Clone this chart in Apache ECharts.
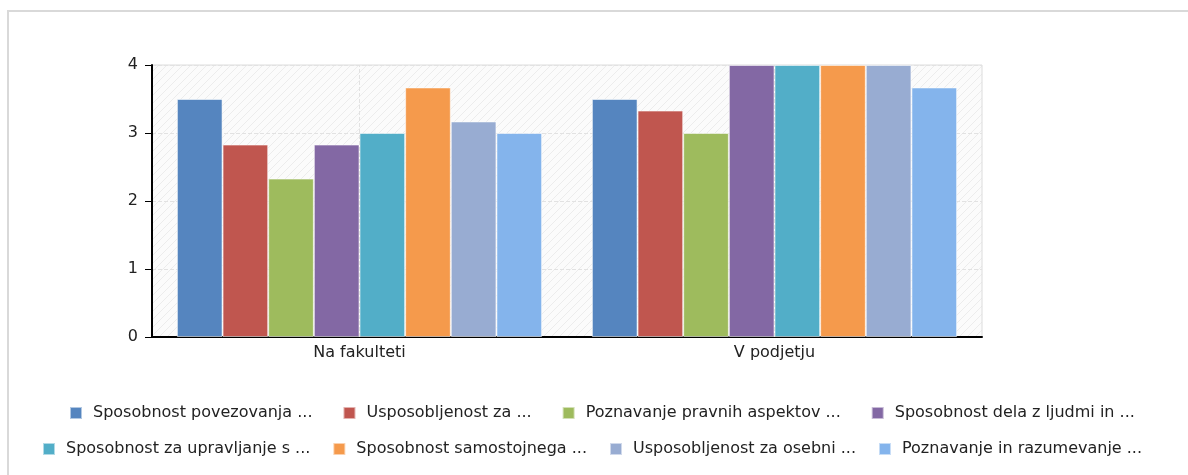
<!DOCTYPE html>
<html>
<head>
<meta charset="utf-8">
<script src="https://cdn.jsdelivr.net/npm/echarts@6/dist/echarts.min.js"></script>
<style>
html,body{margin:0;padding:0;background:#fff;overflow:hidden;}
#frame{position:absolute;left:7px;top:10px;width:1300px;height:600px;border-top:2px solid #d9d9d9;border-left:2px solid #d9d9d9;}
#chart{position:absolute;left:0;top:0;width:1188px;height:475px;}
</style>
</head>
<body>
<div id="frame"></div>
<div id="chart"></div>
<script>
var categories = ['Na fakulteti', 'V podjetju'];
var seriesNames = [
  'Sposobnost povezovanja ...',
  'Usposobljenost za ...',
  'Poznavanje pravnih aspektov ...',
  'Sposobnost dela z ljudmi in ...',
  'Sposobnost za upravljanje s ...',
  'Sposobnost samostojnega ...',
  'Usposobljenost za osebni ...',
  'Poznavanje in razumevanje ...'
];
var s1 = [3.5, 3.5];
var s2 = [2.83, 3.33];
var s3 = [2.33, 3];
var s4 = [2.83, 4];
var s5 = [3, 4];
var s6 = [3.67, 4];
var s7 = [3.17, 4];
var s8 = [3, 3.67];
var yTicks = [0, 1, 2, 3, 4];

var colors = ['#5585BF', '#C0564F', '#9EBB5D', '#8368A4', '#52AEC8', '#F59A4C', '#98ACD2', '#84B4EC'];
var values = [s1, s2, s3, s4, s5, s6, s7, s8];

// hatched background pattern
var pc = document.createElement('canvas');
pc.width = 8; pc.height = 8;
var ctx = pc.getContext('2d');
ctx.fillStyle = '#fbfbfb';
ctx.fillRect(0, 0, 8, 8);
ctx.strokeStyle = '#ececec';
ctx.lineWidth = 1;
ctx.beginPath();
ctx.moveTo(0, 8); ctx.lineTo(8, 0);
ctx.moveTo(-4, 4); ctx.lineTo(4, -4);
ctx.moveTo(4, 12); ctx.lineTo(12, 4);
ctx.stroke();

var font = "'DejaVu Sans', sans-serif";
var series = values.map(function (v, i) {
  return {
    name: seriesNames[i],
    type: 'bar',
    data: v,
    barGap: '0%',
    barCategoryGap: '12%',
    itemStyle: { color: colors[i], borderColor: 'rgba(255,255,255,0.55)', borderWidth: 1 },
    z: 2
  };
});
series.push({
  type: 'line',
  data: [],
  z: 1,
  silent: true,
  markLine: {
    silent: true,
    symbol: ['none', 'none'],
    label: { show: false },
    lineStyle: { color: '#e2e2e2', type: 'dashed', width: 1 },
    data: categories.map(function (c) { return { xAxis: c }; })
  }
});

var legendText = { color: '#222', fontSize: 16, fontFamily: font, padding: [0, 0, 0, 6] };

var chart = echarts.init(document.getElementById('chart'), null, { renderer: 'canvas' });
chart.setOption({
  animation: false,
  color: colors,
  textStyle: { fontFamily: font },
  grid: {
    left: 152, right: 206, top: 65, bottom: 138,
    show: true,
    backgroundColor: { image: pc, repeat: 'repeat' },
    borderColor: '#dcdcdc',
    borderWidth: 1
  },
  xAxis: {
    type: 'category',
    data: categories,
    axisLine: { lineStyle: { color: '#000', width: 2 } },
    axisTick: { alignWithLabel: true, length: 5, lineStyle: { color: '#000' } },
    axisLabel: { color: '#222', fontSize: 16, margin: 8, fontFamily: font },
    splitLine: { show: false }
  },
  yAxis: {
    type: 'value',
    min: yTicks[0],
    max: yTicks[yTicks.length - 1],
    interval: 1,
    axisLine: { show: true, lineStyle: { color: '#000', width: 2 } },
    axisTick: { show: true, length: 7, lineStyle: { color: '#000' } },
    axisLabel: { color: '#222', fontSize: 16, margin: 14, fontFamily: font },
    splitLine: { show: true, lineStyle: { color: '#e2e2e2', type: 'dashed' } }
  },
  legend: [
    {
      data: seriesNames.slice(0, 4),
      top: 400,
      left: 64,
      itemWidth: 12, itemHeight: 12,
      itemGap: 30,
      icon: 'rect',
      textStyle: legendText
    },
    {
      data: seriesNames.slice(4),
      top: 436,
      left: 37,
      itemWidth: 12, itemHeight: 12,
      itemGap: 22,
      icon: 'rect',
      textStyle: legendText
    }
  ],
  series: series
});
</script>
</body>
</html>
